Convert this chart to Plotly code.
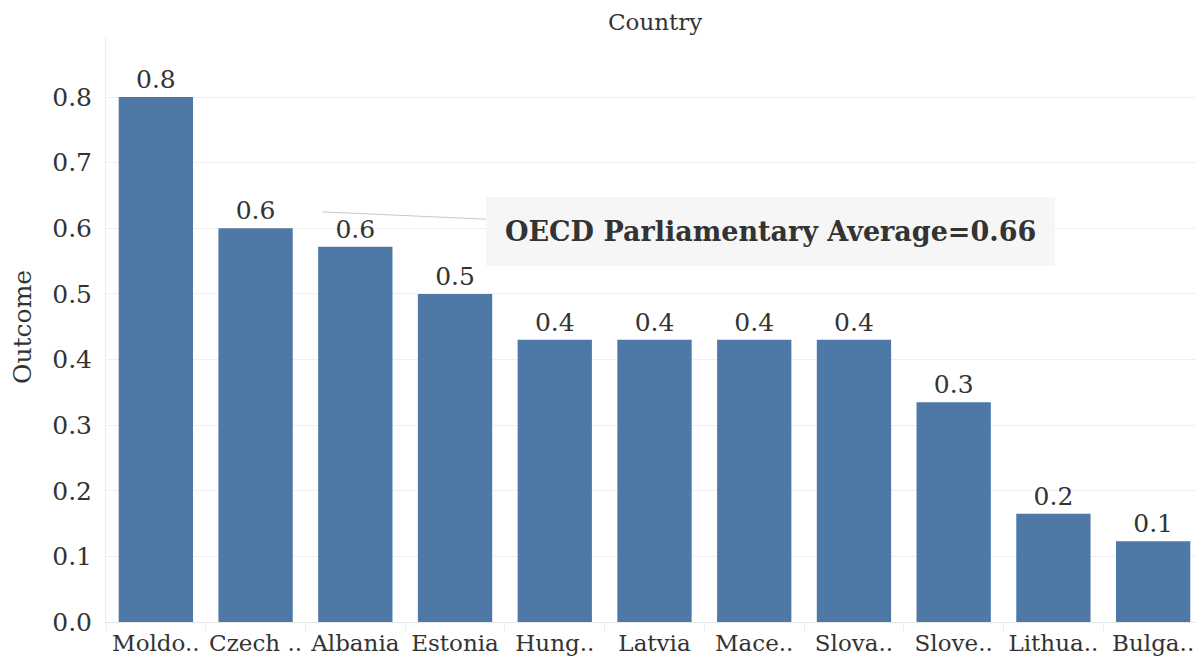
import plotly.graph_objects as go

countries = ["Moldo..", "Czech ..", "Albania", "Estonia", "Hung..", "Latvia",
             "Mace..", "Slova..", "Slove..", "Lithua..", "Bulga.."]
outcome = [0.80, 0.60, 0.572, 0.50, 0.43, 0.43, 0.43, 0.43, 0.335, 0.165, 0.123]
labels = [f"{v:.1f}" for v in outcome]
y_ticks = [0.0, 0.1, 0.2, 0.3, 0.4, 0.5, 0.6, 0.7, 0.8]
avg_text = "OECD Parliamentary Average=0.66"

FONT = "Georgia, 'DejaVu Serif', serif"
TXT = "#333333"

fig = go.Figure()
fig.add_trace(go.Bar(
    x=countries, y=outcome, text=labels, textposition="outside",
    textfont=dict(family=FONT, size=25, color=TXT),
    marker=dict(color="#4e79a7", line=dict(width=0)),
    width=0.745, cliponaxis=False,
))

fig.update_layout(
    width=1196, height=661,
    margin=dict(l=98, r=1, t=30, b=47),
    paper_bgcolor="white", plot_bgcolor="white",
    showlegend=False,
    font=dict(family=FONT, color=TXT),
    xaxis=dict(
        type="category", showgrid=False, showline=True, linecolor="#e6e6e6",
        ticks="outside", tickson="boundaries", ticklen=8, tickcolor="#ececec",
        tickangle=0,
        tickfont=dict(family=FONT, size=23, color=TXT), automargin=False,
    ),
    yaxis=dict(
        range=[0, 0.89], tickvals=y_ticks, ticktext=[f"{v:.1f}" for v in y_ticks],
        showgrid=True, gridcolor="#efefef", zeroline=False,
        showline=True, linecolor="#ececec", ticklabelstandoff=8,
        tickfont=dict(family=FONT, size=25, color=TXT), automargin=False,
    ),
    annotations=[
        dict(text="Country", xref="paper", yref="paper", x=0.5, y=1, yshift=16,
             showarrow=False, xanchor="center", yanchor="middle",
             font=dict(family=FONT, size=23, color=TXT)),
        dict(text="Outcome", xref="paper", yref="paper", x=-0.0766, y=0.505,
             textangle=-90, showarrow=False, xanchor="center", yanchor="middle",
             font=dict(family=FONT, size=25, color=TXT)),
        dict(text="<b>" + avg_text + "</b>", x=1.67, y=0.625, xref="x", yref="y",
             ax=448, ay=20, axref="pixel", ayref="pixel",
             showarrow=True, arrowhead=0, arrowwidth=1, arrowcolor="#c8c8c8",
             bgcolor="#f6f6f6", borderpad=19, borderwidth=0,
             font=dict(family=FONT, size=27, color=TXT)),
    ],
)

fig.write_html("out.html")
